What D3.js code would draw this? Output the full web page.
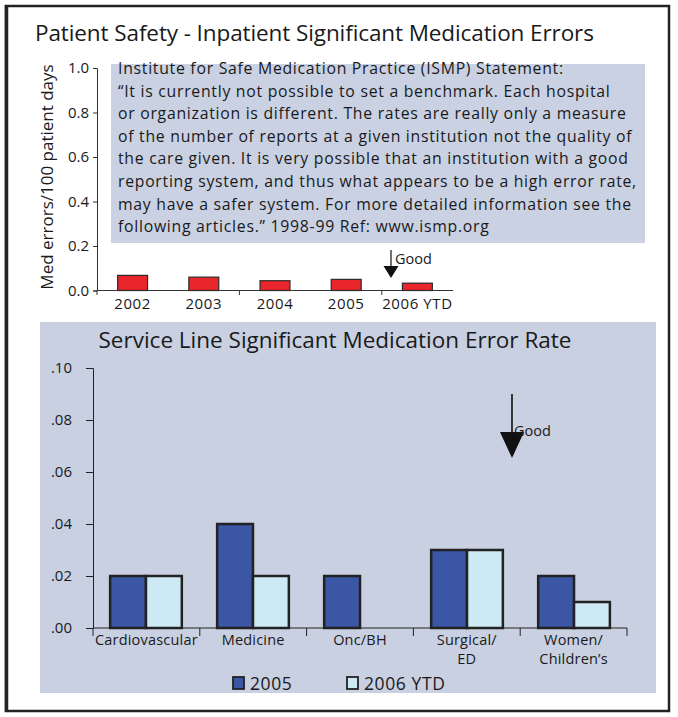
<!DOCTYPE html>
<html lang="en">
<head>
<meta charset="utf-8">
<title>Patient Safety - Medication Errors</title>
<script src="https://d3js.org/d3.v7.min.js"></script>
<style>
body { margin: 0; background: #fff; }
svg text { font-family: "Open Sans", "Liberation Sans", sans-serif; fill: #1a1a1a; }
</style>
</head>
<body>
<div id="chart"></div>
<script>
// data
const years = ["2002", "2003", "2004", "2005", "2006 YTD"];
const yearRates = [0.068, 0.060, 0.044, 0.050, 0.033];
const topTicks = [0, 0.2, 0.4, 0.6, 0.8, 1.0];

const serviceLines = [["Cardiovascular"], ["Medicine"], ["Onc/BH"], ["Surgical/", "ED"], ["Women/", "Children’s"]];
const rates2005 = [0.02, 0.04, 0.02, 0.03, 0.02];
const rates2006 = [0.02, 0.02, 0, 0.03, 0.01];
const bottomTicks = [0, 0.02, 0.04, 0.06, 0.08, 0.10];
const seriesNames = ["2005", "2006 YTD"];

const statementLines = [
  "Institute for Safe Medication Practice (ISMP) Statement:",
  "“It is currently not possible to set a benchmark. Each hospital",
  "or organization is different. The rates are really only a measure",
  "of the number of reports at a given institution not the quality of",
  "the care given. It is very possible that an institution with a good",
  "reporting system, and thus what appears to be a high error rate,",
  "may have a safer system. For more detailed information see the",
  "following articles.” 1998-99 Ref: www.ismp.org"
];

const width = 678, height = 717;
const svg = d3.select("#chart").append("svg")
  .attr("width", width)
  .attr("height", height);

// outer frame
svg.append("rect")
  .attr("x", 6).attr("y", 6).attr("width", 663).attr("height", 705)
  .attr("fill", "none").attr("stroke", "#222").attr("stroke-width", 2.5);
svg.append("line")
  .attr("x1", 6.5).attr("x2", 6.5).attr("y1", 5).attr("y2", 712)
  .attr("stroke", "#222").attr("stroke-width", 3.5);

// ---------- top chart ----------
svg.append("text")
  .attr("x", 35).attr("y", 41)
  .style("font-size", "22.5px")
  .style("letter-spacing", "-0.1px")
  .text("Patient Safety - Inpatient Significant Medication Errors");

const x1 = d3.scaleBand().domain(years).range([97, 453]).paddingInner(0.58).paddingOuter(0.29);
const y1 = d3.scaleLinear().domain([0, 1]).range([290.5, 68]);

const yAxis1 = svg.append("g")
  .attr("transform", "translate(97,0)")
  .call(d3.axisLeft(y1).tickValues(topTicks).tickFormat(d3.format(".1f")).tickSize(4).tickPadding(4));
yAxis1.select(".domain").attr("stroke", "#333");
yAxis1.selectAll(".tick line").attr("stroke", "#333");
yAxis1.selectAll("text").style("font-size", "15px").attr("fill", "#1a1a1a");

svg.append("text")
  .attr("transform", "translate(53,177) rotate(-90)")
  .attr("text-anchor", "middle")
  .style("font-size", "17px")
  .text("Med errors/100 patient days");

// statement box
svg.append("rect")
  .attr("x", 111).attr("y", 64).attr("width", 534).attr("height", 179)
  .attr("fill", "#c9d1e3");
svg.append("g").selectAll("text")
  .data(statementLines)
  .join("text")
  .attr("x", 118)
  .attr("y", (d, i) => 74 + i * 22.6)
  .style("font-size", "15.8px")
  .style("letter-spacing", "0.72px")
  .text(d => d);

// x axis
svg.append("line")
  .attr("x1", 97).attr("x2", 453).attr("y1", 290.5).attr("y2", 290.5)
  .attr("stroke", "#333");
const step1 = (453 - 97) / years.length;
svg.append("g").selectAll("line")
  .data([0, 2, 4])
  .join("line")
  .attr("x1", d => 97 + d * step1).attr("x2", d => 97 + d * step1)
  .attr("y1", 290.5).attr("y2", 295)
  .attr("stroke", "#333");

svg.append("g").selectAll("rect")
  .data(years)
  .join("rect")
  .attr("x", d => x1(d))
  .attr("width", x1.bandwidth())
  .attr("y", (d, i) => y1(yearRates[i]))
  .attr("height", (d, i) => y1(0) - y1(yearRates[i]))
  .attr("fill", "#e8262c")
  .attr("stroke", "#2a2a2a").attr("stroke-width", 1.2);

svg.append("g").selectAll("text")
  .data(years)
  .join("text")
  .attr("x", d => x1(d) + x1.bandwidth() / 2)
  .attr("y", 309)
  .attr("text-anchor", "middle")
  .style("font-size", "15px")
  .style("letter-spacing", "0.6px")
  .text(d => d);

// "Good" arrow (top)
const goodTop = svg.append("g");
goodTop.append("line")
  .attr("x1", 391).attr("x2", 391).attr("y1", 250).attr("y2", 268)
  .attr("stroke", "#111").attr("stroke-width", 1.2);
goodTop.append("path")
  .attr("d", "M383.5,266 L398.5,266 L391,278 Z")
  .attr("fill", "#111");
goodTop.append("text")
  .attr("x", 395).attr("y", 264)
  .style("font-size", "14.5px")
  .text("Good");

// ---------- bottom chart ----------
svg.append("rect")
  .attr("x", 40).attr("y", 322).attr("width", 616).attr("height", 371)
  .attr("fill", "#c8d0e2");

svg.append("text")
  .attr("x", 335).attr("y", 348)
  .attr("text-anchor", "middle")
  .style("font-size", "22.5px")
  .text("Service Line Significant Medication Error Rate");

const x2 = d3.scaleBand().domain(d3.range(serviceLines.length)).range([93, 627]).paddingInner(0.33).paddingOuter(0.16);
const xSub = d3.scaleBand().domain(seriesNames).range([0, x2.bandwidth()]);
const y2 = d3.scaleLinear().domain([0, 0.10]).range([628, 368]);

const yAxis2 = svg.append("g")
  .attr("transform", "translate(93,0)")
  .call(d3.axisLeft(y2).tickValues(bottomTicks)
    .tickFormat(d => d3.format(".2f")(d).replace(/^0/, ""))
    .tickSize(7).tickPadding(14));
yAxis2.select(".domain").attr("stroke", "#222");
yAxis2.selectAll(".tick line").attr("stroke", "#222");
yAxis2.selectAll("text").style("font-size", "15px").attr("fill", "#1a1a1a");

svg.append("line")
  .attr("x1", 93).attr("x2", 627).attr("y1", 628).attr("y2", 628)
  .attr("stroke", "#222");
const step2 = (627 - 93) / serviceLines.length;
svg.append("g").selectAll("line")
  .data(d3.range(serviceLines.length + 1))
  .join("line")
  .attr("x1", d => 93 + d * step2).attr("x2", d => 93 + d * step2)
  .attr("y1", 628).attr("y2", 636)
  .attr("stroke", "#222");

const barColors = { "2005": "#3a56a5", "2006 YTD": "#cde9f3" };
const barData = [];
serviceLines.forEach((s, i) => {
  if (rates2005[i] > 0) barData.push({ i, key: "2005", v: rates2005[i] });
  if (rates2006[i] > 0) barData.push({ i, key: "2006 YTD", v: rates2006[i] });
});
svg.append("g").selectAll("rect")
  .data(barData)
  .join("rect")
  .attr("x", d => x2(d.i) + xSub(d.key))
  .attr("width", xSub.bandwidth())
  .attr("y", d => y2(d.v))
  .attr("height", d => y2(0) - y2(d.v))
  .attr("fill", d => barColors[d.key])
  .attr("stroke", "#222").attr("stroke-width", 2.5);

const catLabels = svg.append("g").selectAll("text")
  .data(serviceLines)
  .join("text")
  .attr("text-anchor", "middle")
  .style("font-size", "14.5px")
  .style("letter-spacing", "0.2px");
catLabels.selectAll("tspan")
  .data((d, i) => d.map(t => ({ t, i })))
  .join("tspan")
  .attr("x", d => 93 + (d.i + 0.5) * step2)
  .attr("y", (d, j) => 645 + j * 19)
  .text(d => d.t);

// legend
const legend = svg.append("g").selectAll("g")
  .data(seriesNames)
  .join("g")
  .attr("transform", (d, i) => "translate(" + (233 + i * 114) + ",677)");
legend.append("rect")
  .attr("width", 11).attr("height", 12)
  .attr("fill", d => barColors[d])
  .attr("stroke", "#222").attr("stroke-width", 1.8);
legend.append("text")
  .attr("x", 17).attr("y", 13)
  .style("font-size", "17.5px")
  .style("letter-spacing", "0.6px")
  .text(d => d);

// "Good" arrow (bottom)
const goodBottom = svg.append("g");
goodBottom.append("line")
  .attr("x1", 512).attr("x2", 512).attr("y1", 394).attr("y2", 434)
  .attr("stroke", "#111").attr("stroke-width", 1.6);
goodBottom.append("path")
  .attr("d", "M500,432 L524,432 L512,458 Z")
  .attr("fill", "#111");
goodBottom.append("text")
  .attr("x", 514).attr("y", 436)
  .style("font-size", "14.5px")
  .text("Good");
</script>
</body>
</html>
